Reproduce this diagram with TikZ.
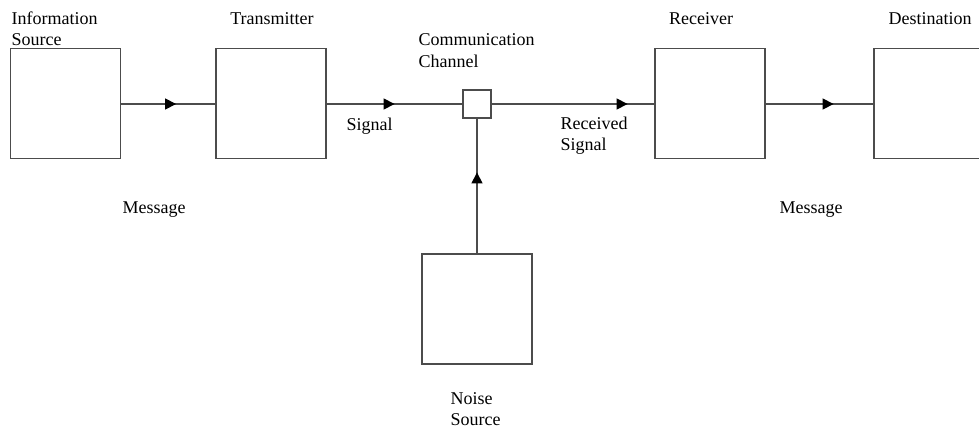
\documentclass[tikz,border=0pt]{standalone}
\usepackage{fontspec}
\setmainfont{Liberation Serif}
\usetikzlibrary{decorations.markings,arrows.meta}
\begin{document}
\begin{tikzpicture}[x=1pt,y=-1pt,
  line width=1.2pt,
  box/.style={draw=black!70,fill=white,inner sep=0pt,minimum width=110pt,minimum height=110pt},
  chbox/.style={draw=black!70,fill=white,inner sep=0pt,minimum width=28pt,minimum height=28pt},
  lbl/.style={inner sep=0pt,anchor=base west,align=left,font=\fontsize{18}{21}\selectfont},
  conn/.style={draw=black!70},
  tipat/.style={postaction={decorate,decoration={markings,
     mark=at position #1 with {\arrow[black]{Triangle[length=11pt,width=11pt]}}}}}
]
\useasboundingbox (0,0) rectangle (979,428);
\clip (0,0) rectangle (979,428);
\node[box] (src) at (65.5,103.5) {};
\node[box] (tx) at (271,103.5) {};
\node[box] (rx) at (710,103.5) {};
\node[box] (dst) at (929,103.5) {};
\node[box] (noise) at (477,309) {};
\node[chbox] (ch) at (477,104) {};

\draw[conn,tipat=55pt] (src.east |- 0,104) -- (tx.west |- 0,104);
\draw[conn,tipat=68pt] (tx.east |- 0,104) -- (ch.west);
\draw[conn,tipat=136pt] (ch.east) -- (rx.west |- 0,104);
\draw[conn,tipat=68pt] (rx.east |- 0,104) -- (dst.west |- 0,104);
\draw[conn,tipat=81pt] (noise.north) -- (ch.south);

\node[lbl] (l1) at (11,46) {Information\\Source};
\node[lbl,anchor=base] (l2) at (272,25) {Transmitter};
\node[lbl] (l3) at (418,67) {Communication\\Channel};
\node[lbl,anchor=base] (l4) at (701,25) {Receiver};
\node[lbl] (l5) at (888,25) {Destination};
\node[lbl] (l6) at (346,130) {Signal};
\node[lbl] (l7) at (560,150) {Received\\Signal};
\node[lbl] (l8) at (122,213) {Message};
\node[lbl] (l9) at (779,213) {Message};
\node[lbl] (l10) at (450,425) {Noise\\Source};
\end{tikzpicture}
\end{document}
